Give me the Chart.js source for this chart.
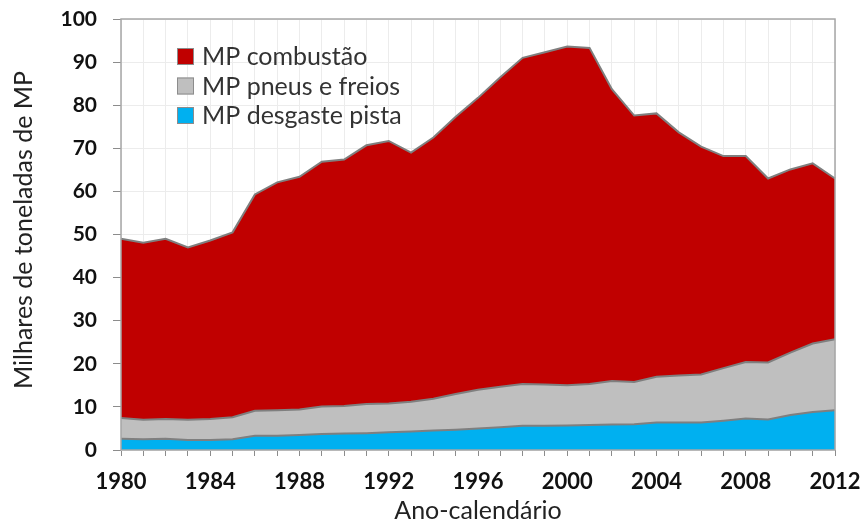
<!DOCTYPE html>
<html><head><meta charset="utf-8">
<script src="https://cdn.jsdelivr.net/npm/chart.js@4"></script>
<style>html,body{margin:0;padding:0;background:#fff}</style>
</head><body>
<canvas id="c" width="862" height="523"></canvas>
<script>
const years = [1980,1981,1982,1983,1984,1985,1986,1987,1988,1989,1990,1991,1992,1993,1994,1995,1996,1997,1998,1999,2000,2001,2002,2003,2004,2005,2006,2007,2008,2009,2010,2011,2012];
const desgastePista = [2.6,2.5,2.6,2.3,2.3,2.5,3.3,3.3,3.5,3.7,3.8,3.9,4.1,4.3,4.5,4.7,5.0,5.3,5.6,5.6,5.7,5.8,5.9,6.0,6.4,6.4,6.4,6.8,7.3,7.1,8.1,8.8,9.2];
const pneusFreios = [4.8,4.5,4.6,4.7,4.9,5.1,5.8,5.9,5.9,6.4,6.4,6.8,6.7,6.9,7.4,8.3,9.0,9.4,9.7,9.6,9.3,9.5,10.1,9.8,10.6,10.9,11.1,12.2,13.1,13.2,14.5,15.9,16.5];
const combustao = [41.6,41.1,41.8,40.0,41.4,42.9,50.2,52.9,54.0,56.8,57.2,60.0,60.9,57.8,60.6,64.3,67.7,71.8,75.7,77.1,78.6,78.0,67.7,61.8,61.1,56.4,52.9,49.2,47.8,42.7,42.5,41.8,37.3];
const seriesNames = ['MP desgaste pista','MP pneus e freios','MP combustão'];
const seriesColors = ['#00B0F0','#BFBFBF','#C00000'];
const yTitle = 'Milhares de toneladas de MP';
const xTitle = 'Ano-calendário';
const FONT = 'Lato';

const framePlugin = {
  id: 'frame',
  afterDraw(chart) {
    const {ctx, chartArea: a} = chart;
    ctx.save();
    ctx.strokeStyle = '#a6a6a6';
    ctx.lineWidth = 1.5;
    ctx.strokeRect(a.left, a.top, a.right - a.left, a.bottom - a.top);
    ctx.translate(24, 230);
    ctx.rotate(-Math.PI/2);
    ctx.fillStyle = '#222';
    ctx.font = '25px ' + FONT;
    ctx.textAlign = 'center';
    ctx.textBaseline = 'middle';
    ctx.fillText(yTitle, 0, 0);
    ctx.restore();
    ctx.save();
    const order = [2,1,0];
    ctx.font = '25px ' + FONT;
    ctx.textBaseline = 'middle';
    order.forEach((di, i) => {
      const ds = chart.data.datasets[di];
      const cy = 56 + i * 29.5;
      ctx.fillStyle = ds.backgroundColor;
      ctx.fillRect(177, cy - 8, 17, 17);
      ctx.strokeStyle = '#8c8c8c';
      ctx.lineWidth = 1;
      ctx.strokeRect(177.5, cy - 7.5, 16, 16);
      ctx.fillStyle = '#333';
      ctx.fillText(ds.label, 202, cy + 1);
    });
    ctx.restore();
  }
};

const datasets = [desgastePista, pneusFreios, combustao].map((d, i) => ({
  label: seriesNames[i],
  data: d,
  backgroundColor: seriesColors[i],
  borderColor: '#7f7f7f',
  borderWidth: 2,
  pointRadius: 0,
  tension: 0,
  fill: i === 0 ? 'origin' : '-1'
}));

new Chart(document.getElementById('c'), {
  type: 'line',
  data: { labels: years, datasets },
  plugins: [framePlugin],
  options: {
    responsive: false,
    animation: false,
    layout: { padding: { left: 0, right: 27, top: 19, bottom: 0 } },
    plugins: { legend: { display: false }, tooltip: { enabled: false } },
    scales: {
      x: {
        stacked: true,
        grid: { color: '#ececec', tickLength: 6, tickColor: '#8c8c8c', drawOnChartArea: true },
        border: { display: false },
        ticks: {
          autoSkip: false, maxRotation: 0, padding: 13,
          color: '#111', font: { family: FONT, size: 22, weight: 'bold' },
          callback: (v, idx) => (years[idx] % 4 === 0 ? String(years[idx]) : '')
        },
        title: { display: true, text: xTitle, color: '#222', font: { family: FONT, size: 25 }, padding: { top: 0, bottom: -3 } },
        afterFit: s => { s.height = 73; s.paddingLeft = 0; s.paddingRight = 0; }
      },
      y: {
        stacked: true,
        min: 0, max: 100,
        grid: { color: '#ececec', tickLength: 8, tickColor: '#8c8c8c' },
        border: { display: false },
        ticks: { stepSize: 10, padding: 16, color: '#111', font: { family: FONT, size: 21, weight: 'bold' } },
        afterFit: s => { s.width = 121; s.paddingTop = 0; s.paddingBottom = 0; }
      }
    }
  }
});
</script>
</body></html>
